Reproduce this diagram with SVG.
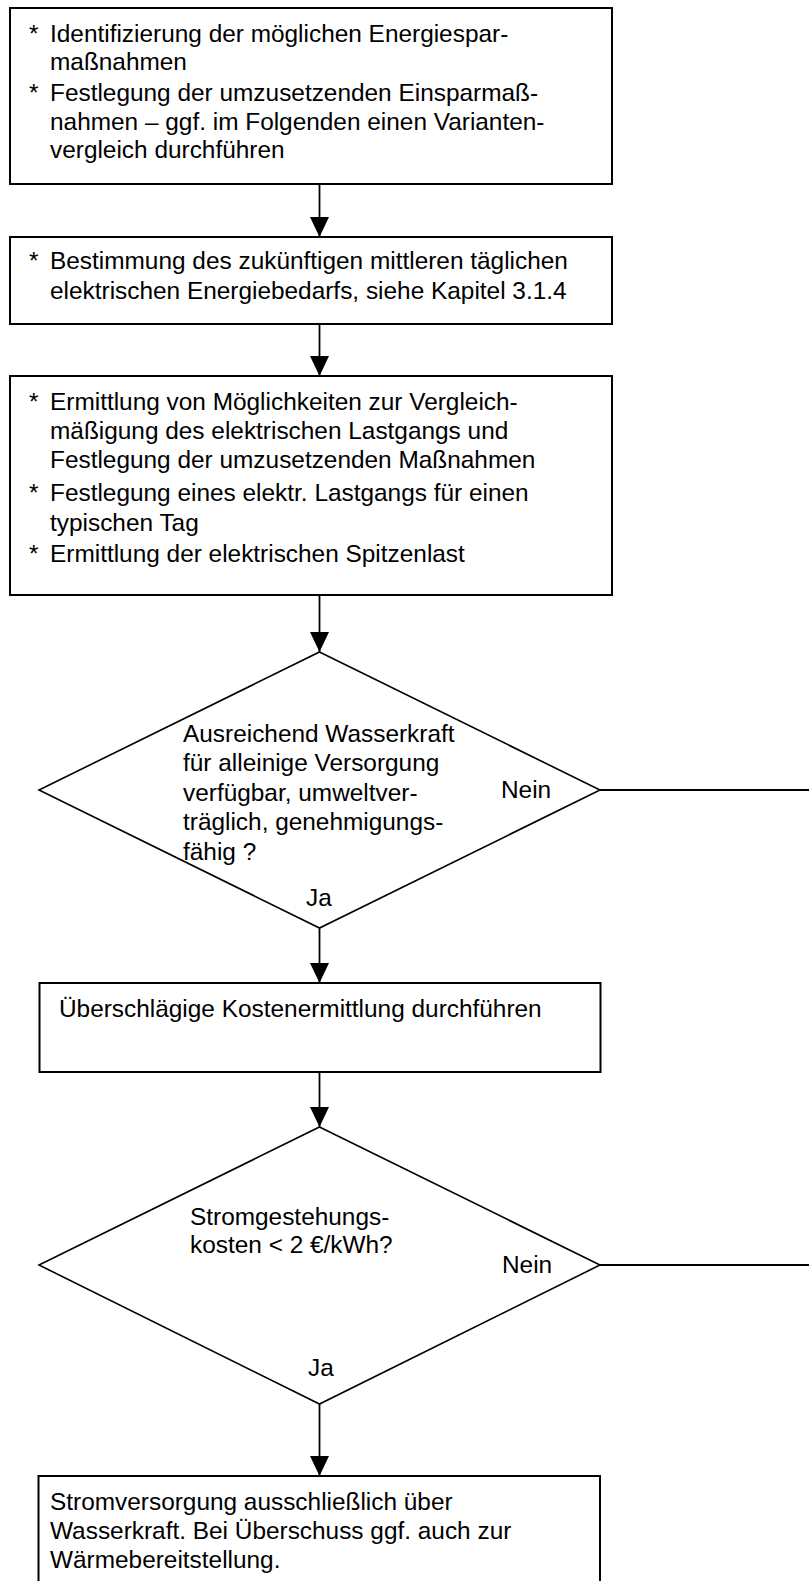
<svg xmlns="http://www.w3.org/2000/svg" width="809" height="1581" viewBox="0 0 809 1581">
<defs>
<style>
.box{fill:#fff;stroke:#000;stroke-width:2}
.dia{fill:#fff;stroke:#000;stroke-width:1.6}
.t{font-family:"Liberation Sans",Arial,sans-serif;font-size:24.4px;fill:#000}
.c{stroke:#000;stroke-width:1.8;fill:none}
</style>
<marker id="ah" markerUnits="userSpaceOnUse" viewBox="0 0 20 19" refX="20" refY="9.5" markerWidth="20" markerHeight="19" orient="auto">
<path d="M0,0 L20,9.5 L0,19 z" fill="#000"/>
</marker>
</defs>
<rect width="809" height="1581" fill="#fff"/>
<g id="box1">
<rect class="box" x="10" y="8" width="602" height="176"/>
<text class="t" x="29" y="42">*</text>
<text class="t" x="50" y="42">Identifizierung der möglichen Energiespar-</text>
<text class="t" x="50" y="70">maßnahmen</text>
<text class="t" x="29" y="101">*</text>
<text class="t" x="50" y="101">Festlegung der umzusetzenden Einsparmaß-</text>
<text class="t" x="50" y="130">nahmen – ggf. im Folgenden einen Varianten-</text>
<text class="t" x="50" y="158">vergleich durchführen</text>
</g>
<g id="box2">
<rect class="box" x="10" y="237" width="602" height="87"/>
<text class="t" x="29" y="269">*</text>
<text class="t" x="50" y="269">Bestimmung des zukünftigen mittleren täglichen</text>
<text class="t" x="50" y="299">elektrischen Energiebedarfs, siehe Kapitel 3.1.4</text>
</g>
<g id="box3">
<rect class="box" x="10" y="376" width="602" height="219"/>
<text class="t" x="29" y="410">*</text>
<text class="t" x="50" y="410">Ermittlung von Möglichkeiten zur Vergleich-</text>
<text class="t" x="50" y="439">mäßigung des elektrischen Lastgangs und</text>
<text class="t" x="50" y="468">Festlegung der umzusetzenden Maßnahmen</text>
<text class="t" x="29" y="501">*</text>
<text class="t" x="50" y="501">Festlegung eines elektr. Lastgangs für einen</text>
<text class="t" x="50" y="531">typischen Tag</text>
<text class="t" x="29" y="562">*</text>
<text class="t" x="50" y="562">Ermittlung der elektrischen Spitzenlast</text>
</g>
<g id="decision1">
<polygon class="dia" points="319.5,652 600,790 319.5,928 39,790"/>
<text class="t" x="183" y="742">Ausreichend Wasserkraft</text>
<text class="t" x="183" y="771">für alleinige Versorgung</text>
<text class="t" x="183" y="801">verfügbar, umweltver-</text>
<text class="t" x="183" y="830">träglich, genehmigungs-</text>
<text class="t" x="183" y="860">fähig ?</text>
<text class="t" x="501" y="798">Nein</text>
<text class="t" x="306" y="906">Ja</text>
</g>
<g id="box4">
<rect class="box" x="39.5" y="983" width="561" height="89"/>
<text class="t" x="59" y="1017">Überschlägige Kostenermittlung durchführen</text>
</g>
<g id="decision2">
<polygon class="dia" points="319.5,1127 600,1265 319.5,1404 39,1265"/>
<text class="t" x="190" y="1225">Stromgestehungs-</text>
<text class="t" x="190" y="1253">kosten &lt; 2 €/kWh?</text>
<text class="t" x="502" y="1273">Nein</text>
<text class="t" x="308" y="1376">Ja</text>
</g>
<g id="box5">
<rect class="box" x="38.5" y="1476" width="561.5" height="120"/>
<text class="t" x="50" y="1510">Stromversorgung ausschließlich über</text>
<text class="t" x="50" y="1539">Wasserkraft. Bei Überschuss ggf. auch zur</text>
<text class="t" x="50" y="1568">Wärmebereitstellung.</text>
</g>
<g id="connectors">
<line class="c" x1="319.5" y1="184" x2="319.5" y2="237" marker-end="url(#ah)"/>
<line class="c" x1="319.5" y1="324" x2="319.5" y2="376" marker-end="url(#ah)"/>
<line class="c" x1="319.5" y1="596" x2="319.5" y2="652" marker-end="url(#ah)"/>
<line class="c" x1="319.5" y1="928" x2="319.5" y2="983" marker-end="url(#ah)"/>
<line class="c" x1="319.5" y1="1073" x2="319.5" y2="1127" marker-end="url(#ah)"/>
<line class="c" x1="319.5" y1="1404" x2="319.5" y2="1476" marker-end="url(#ah)"/>
<line class="c" x1="600" y1="790" x2="809" y2="790"/>
<line class="c" x1="600" y1="1265" x2="809" y2="1265"/>
</g>
</svg>
